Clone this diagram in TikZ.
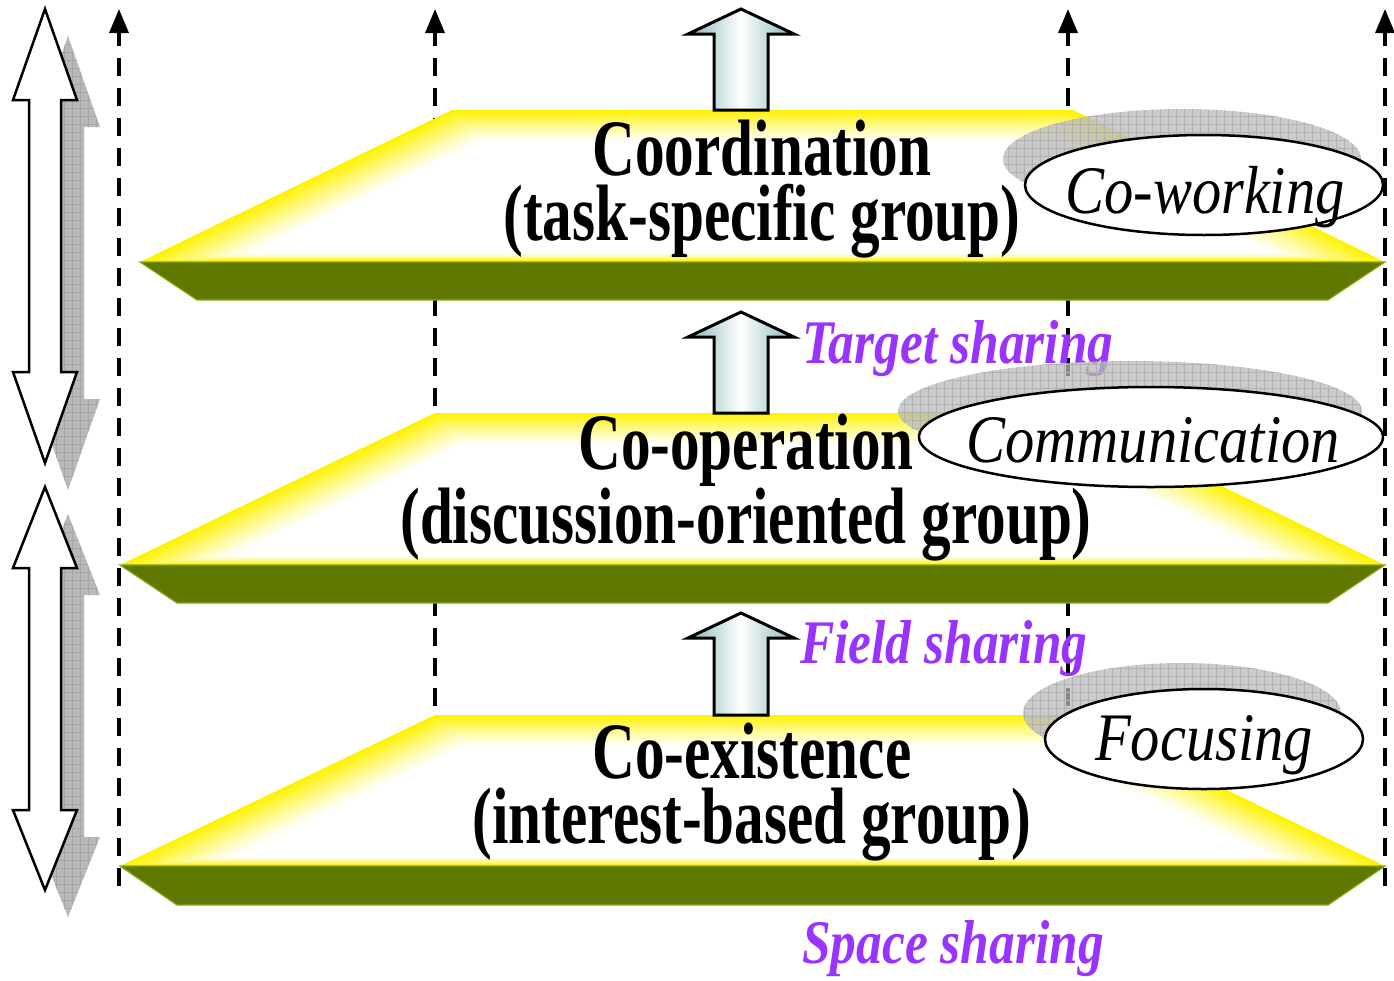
\documentclass[tikz,border=0pt]{standalone}
\usepackage{fontspec}
\setmainfont{Liberation Serif}
\newfontfamily\layerfont[FakeStretch=0.74]{Liberation Serif}
\newfontfamily\ovalfont[FakeStretch=0.86]{Liberation Serif}
\newfontfamily\sharefont[FakeStretch=0.83]{Liberation Serif}
\usetikzlibrary{arrows.meta,shapes.geometric,patterns.meta}
\definecolor{bandFill}{RGB}{94,120,0}
\definecolor{bandLine}{RGB}{140,165,20}
\definecolor{shareText}{RGB}{153,51,255}
\definecolor{arrowTeal}{RGB}{135,182,182}
\definecolor{shadeGray}{RGB}{185,185,185}
\tikzset{
  guide/.style={line width=3.3pt, dash pattern=on 18pt off 12pt,
                -{Triangle[length=24pt,width=19pt]}},
  blockfill/.style={left color=arrowTeal, right color=arrowTeal, middle color=white,
                    draw=black, line width=3pt, line join=miter},
  dblfill/.style={fill=white, draw=black, line width=2.5pt, line join=miter},
  dblshade/.style={fill=shadeGray, postaction={pattern={Hatch[distance=8pt,line width=0.8pt]},
                   pattern color=black!35}},
  ovalshade/.style={ellipse, inner sep=0pt, fill=shadeGray, fill opacity=0.75,
                    postaction={pattern={Hatch[distance=8pt,line width=0.8pt]}, pattern color=black!30}},
  oval/.style={ellipse, inner sep=0pt, fill=white, draw=black, line width=2.5pt},
  ovaltext/.style={inner sep=0pt, anchor=base, font={\ovalfont\itshape\fontsize{68pt}{68pt}\selectfont}},
  layertitle/.style={inner sep=0pt, anchor=base, align=center,
                     font={\layerfont\bfseries\fontsize{80pt}{65pt}\selectfont}},
  sharelabel/.style={inner sep=0pt, anchor=base west, text=shareText,
                     font={\sharefont\bfseries\itshape\fontsize{62pt}{62pt}\selectfont}},
}
% yellow glowing top face of a layer: top y, top-left x, left point x, face bottom y
\newcommand{\plateface}[4]{%
  \pgfmathsetmacro{\kk}{(#2-#3)/(#4-#1)}
  \pgfmathsetmacro{\hh}{sqrt(1+\kk*\kk)}
  \pgfmathsetmacro{\cx}{(#3+1385)/2}
  \foreach \lay in {0,...,20}{
    \pgfmathsetmacro{\insT}{1.6*\lay}
    \pgfmathsetmacro{\insB}{0.45*\lay}
    \pgfmathsetmacro{\xa}{#3+(#4-#1-\insT)*\kk+1.3*\insT*\hh}
    \pgfmathsetmacro{\xb}{#3+\insB*\kk+1.3*\insT*\hh}
    \pgfmathtruncatemacro{\amt}{100*(1-\lay/20)^1.2}
    \fill[yellow!\amt!white] (\xa,#1+\insT) -- (2*\cx-\xa,#1+\insT)
      -- (2*\cx-\xb,#4-\insB) -- (\xb,#4-\insB) -- cycle;
  }
}
% olive edge of a layer: left point x, face bottom y, band bottom y
\newcommand{\plateband}[3]{%
  \filldraw[fill=bandFill, draw=bandLine, line width=1.2pt]
    (#1,#2) -- (1385,#2) -- (1328,#3) -- (#1+57,#3) -- cycle;
}
% fat up arrow: tip y, head base y, bottom y
\newcommand{\blockarrow}[3]{%
  \shadedraw[blockfill] (714,#3) -- (714,#2) -- (688,#2) -- (741,#1)
    -- (794,#2) -- (768,#2) -- (768,#3) -- cycle;
}
% two-headed arrow on the left: top tip, upper head base, lower head base, bottom tip
\newcommand{\dblarrow}[5][dblfill]{%
  \path[#1] (45,#2) -- (77,#3) -- (61,#3) -- (61,#4) -- (77,#4) -- (45,#5)
    -- (13,#4) -- (29,#4) -- (29,#3) -- (13,#3) -- cycle;
}

\begin{document}
\begin{tikzpicture}[x=1pt, y=-1pt]
  \useasboundingbox (0,0) rectangle (1394,980);

  % dashed guides
  \foreach \gx [count=\n] in {119,435,1068,1385} {
    \coordinate (gb\n) at (\gx,886);
    \coordinate (gt\n) at (\gx,9);
    \draw[guide] (gb\n) -- (gt\n);
  }

  % the three layers
  \plateface{110}{452}{140}{262} \plateband{140}{262}{300}
  \plateface{413}{435}{120}{565} \plateband{120}{565}{603}
  \plateface{715}{435}{120}{866} \plateband{120}{866}{905}

  \blockarrow{9}{34}{110}
  \blockarrow{312}{337}{413}
  \blockarrow{613}{638}{715}

  \node[layertitle] (coord) at (762,240) {Coordination\\(task-specific group)};
  \node[layertitle] (coop) at (746,543) {Co-operation\\(discussion-oriented group)};
  \node[layertitle] (coex) at (752,843) {Co-existence\\(interest-based group)};

  \node[sharelabel] (target) at (802,363) {Target sharing};
  \node[sharelabel] (field) at (800,663) {Field sharing};
  \node[sharelabel] (space) at (802,963) {Space sharing};

  % ovals with their shadows
  \node[ovalshade, minimum width=358pt, minimum height=100pt] (coworkShade) at (1182,159) {};
  \node[oval, minimum width=358pt, minimum height=100pt] (cowork) at (1204,185) {};
  \node[ovaltext] (coworkText) at (1205,213) {Co-working};

  \node[ovalshade, minimum width=464pt, minimum height=100pt] (commShade) at (1130,411) {};
  \node[oval, minimum width=464pt, minimum height=100pt] (comm) at (1151,437) {};
  \node[ovaltext] (commText) at (1153,462) {Communication};

  \node[ovalshade, minimum width=318pt, minimum height=100pt] (focusShade) at (1182,713) {};
  \node[oval, minimum width=318pt, minimum height=100pt] (focus) at (1204,739) {};
  \node[ovaltext] (focusText) at (1204,760) {Focusing};

  % double arrows on the left
  \begin{scope}[shift={(23,27)}]
    \dblarrow[dblshade]{9}{100}{372}{463}
    \dblarrow[dblshade]{487}{568}{810}{890}
  \end{scope}
  \dblarrow{9}{100}{372}{463}
  \dblarrow{487}{568}{810}{890}
\end{tikzpicture}
\end{document}
